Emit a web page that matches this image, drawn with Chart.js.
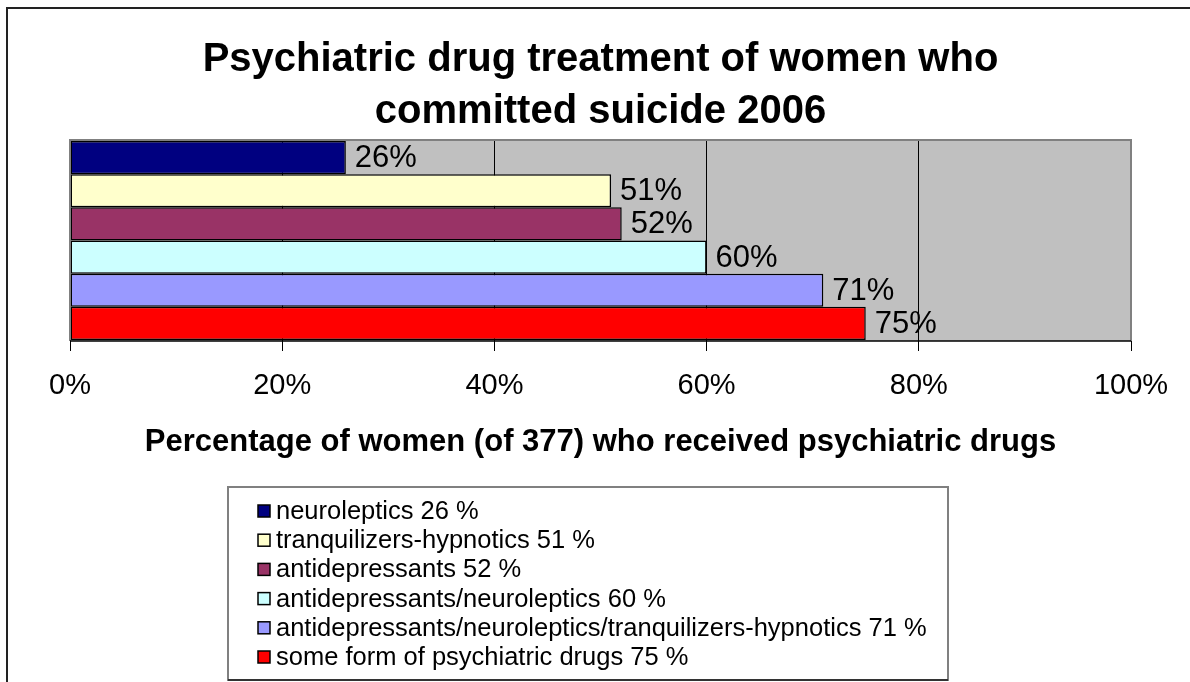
<!DOCTYPE html>
<html>
<head>
<meta charset="utf-8">
<script src="https://cdn.jsdelivr.net/npm/chart.js@4.4.1/dist/chart.umd.min.js"></script>
<style>
  html, body { margin: 0; padding: 0; background: #fff; }
  #wrap { width: 1190px; height: 682px; position: relative; }
</style>
</head>
<body>
<div id="wrap"><canvas id="drugChart"></canvas></div>
<script>
  const FONT = 'Arial, "Liberation Sans", Helvetica, sans-serif';

  // data
  const categories = ['women (of 377)'];
  const seriesNames = [
    'neuroleptics 26 %',
    'tranquilizers-hypnotics 51 %',
    'antidepressants 52 %',
    'antidepressants/neuroleptics 60 %',
    'antidepressants/neuroleptics/tranquilizers-hypnotics 71 %',
    'some form of psychiatric drugs 75 %'
  ];
  const seriesValues = [26, 51, 52, 60, 71, 75];
  const seriesColors = ['#000080', '#FFFFCC', '#993366', '#CCFFFF', '#9999FF', '#FF0000'];
  const xTickValues = [0, 20, 40, 60, 80, 100];
  const titleLines = ['Psychiatric drug treatment of women who', 'committed suicide 2006'];
  const xAxisTitle = 'Percentage of women (of 377) who received psychiatric drugs';

  // white page, outer frame and grey plot area
  const backdrop = {
    id: 'backdrop',
    beforeDraw(chart) {
      const { ctx, chartArea: a } = chart;
      ctx.save();
      ctx.fillStyle = '#fff';
      ctx.fillRect(0, 0, chart.width, chart.height);
      ctx.strokeStyle = '#222';
      ctx.lineWidth = 2;
      ctx.beginPath();
      ctx.moveTo(7, chart.height + 5);
      ctx.lineTo(7, 8);
      ctx.lineTo(chart.width + 5, 8);
      ctx.stroke();
      ctx.fillStyle = '#C0C0C0';
      ctx.fillRect(a.left, a.top, a.right - a.left, a.bottom - a.top);
      ctx.restore();
    },
    afterDatasetsDraw(chart) {
      const { ctx, chartArea: a } = chart;
      ctx.save();
      ctx.strokeStyle = '#808080';
      ctx.lineWidth = 2;
      ctx.beginPath();
      ctx.moveTo(a.left, a.bottom);
      ctx.lineTo(a.left, a.top);
      ctx.lineTo(a.right, a.top);
      ctx.lineTo(a.right, a.bottom);
      ctx.stroke();
      ctx.strokeStyle = '#000';
      ctx.lineWidth = 1.5;
      ctx.beginPath();
      ctx.moveTo(a.left, a.bottom);
      ctx.lineTo(a.right, a.bottom);
      ctx.stroke();

      // value labels at the end of each bar
      ctx.fillStyle = '#000';
      ctx.font = '31px ' + FONT;
      ctx.textBaseline = 'middle';
      ctx.textAlign = 'left';
      chart.data.datasets.forEach((ds, i) => {
        chart.getDatasetMeta(i).data.forEach((bar, j) => {
          ctx.fillText(ds.data[j] + '%', bar.x + 9, bar.y + 1);
        });
      });
      ctx.restore();
    }
  };

  // boxed one-column legend under the axis title
  const boxLegend = {
    id: 'boxLegend',
    afterDraw(chart) {
      const { ctx } = chart;
      const box = { left: 228, top: 487, right: 948, bottom: 680 };
      const rowH = 29.2, firstY = 511;
      ctx.save();
      ctx.strokeStyle = '#808080';
      ctx.lineWidth = 2;
      ctx.strokeRect(box.left, box.top, box.right - box.left, box.bottom - box.top);
      ctx.strokeStyle = '#333';
      ctx.beginPath();
      ctx.moveTo(box.left, box.bottom);
      ctx.lineTo(box.right, box.bottom);
      ctx.stroke();
      ctx.font = '25.5px ' + FONT;
      ctx.textBaseline = 'middle';
      chart.data.datasets.forEach((ds, i) => {
        const y = firstY + i * rowH;
        ctx.fillStyle = ds.backgroundColor;
        ctx.fillRect(258, y - 6, 12, 12);
        ctx.strokeStyle = '#000';
        ctx.lineWidth = 1.5;
        ctx.strokeRect(258, y - 6, 12, 12);
        ctx.fillStyle = '#000';
        ctx.fillText(ds.label, 276, y + 1);
      });
      ctx.restore();
    }
  };

  const datasets = seriesNames.map((name, i) => ({
    label: name,
    data: [seriesValues[i]],
    backgroundColor: seriesColors[i],
    borderColor: '#000',
    borderWidth: 1.5,
    borderSkipped: false,
    categoryPercentage: 0.99,
    barPercentage: 1
  }));

  const ctx = document.getElementById('drugChart').getContext('2d');
  new Chart(ctx, {
    type: 'bar',
    data: { labels: categories, datasets },
    plugins: [backdrop, boxLegend],
    options: {
      indexAxis: 'y',
      responsive: true,
      maintainAspectRatio: false,
      animation: false,
      layout: { padding: { left: 70, right: 59, top: 0, bottom: 217 } },
      scales: {
        x: {
          min: 0,
          max: 100,
          afterBuildTicks: (scale) => { scale.ticks = xTickValues.map(v => ({ value: v })); },
          ticks: {
            color: '#000',
            padding: 18,
            maxRotation: 0,
            font: { family: FONT, size: 29 },
            callback: (v) => v + '%'
          },
          grid: {
            color: (c) => (c.index === 0 || c.index === xTickValues.length - 1) ? 'rgba(0,0,0,0)' : '#000',
            tickColor: '#000',
            tickLength: 10,
            lineWidth: 1
          },
          border: { display: false },
          title: {
            display: true,
            text: xAxisTitle,
            color: '#000',
            font: { family: FONT, size: 31, weight: 'bold' },
            padding: { top: 2, bottom: 4 }
          }
        },
        y: { display: false }
      },
      plugins: {
        legend: { display: false },
        tooltip: { enabled: false },
        title: {
          display: true,
          text: titleLines,
          color: '#000',
          font: { family: FONT, size: 40, weight: 'bold', lineHeight: 1.3 },
          padding: { top: 34, bottom: 2 }
        }
      }
    }
  });
</script>
</body>
</html>
